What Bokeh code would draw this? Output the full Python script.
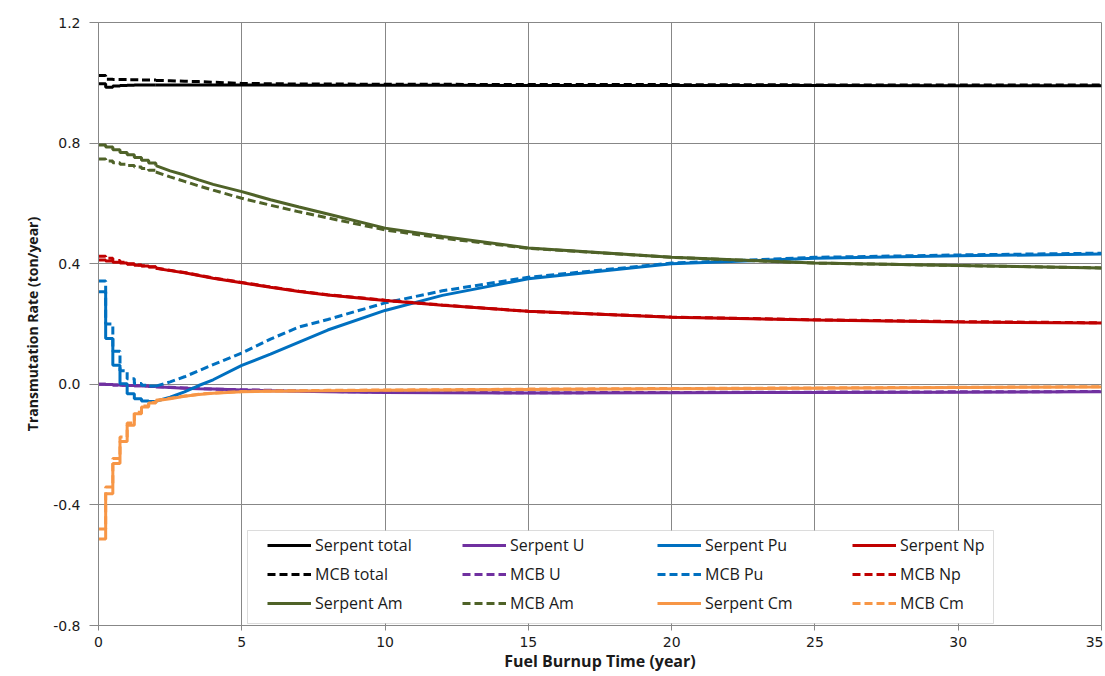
from bokeh.plotting import figure
from bokeh.models import Legend, LegendItem, BoxAnnotation, FixedTicker, PrintfTickFormatter, Range1d
from bokeh.embed import file_html
from bokeh.resources import INLINE

# ---------------- data ----------------
# early burnup steps (piecewise constant), then smooth part
T_STEP = [0, 0.25, 0.5, 0.75, 1.0, 1.25, 1.5, 1.75, 2.0]
T_LINE = [2, 2.5, 3, 3.5, 4, 5, 6, 7, 8, 10, 12, 15, 20, 25, 30, 35]

serpent_total_early = [0.997, 0.985, 0.989, 0.991, 0.992, 0.993, 0.993, 0.993, 0.993]
serpent_total_late = [0.993, 0.993, 0.993, 0.993, 0.993, 0.993, 0.993, 0.992, 0.992, 0.992, 0.992, 0.991, 0.991, 0.991, 0.990, 0.990]
mcb_total_early = [1.024, 1.012, 1.011, 1.011, 1.010, 1.010, 1.009, 1.009, 1.008]
mcb_total_late = [1.008, 1.007, 1.005, 1.004, 1.002, 0.998, 0.997, 0.996, 0.996, 0.995, 0.995, 0.994, 0.994, 0.993, 0.993, 0.993]

serpent_u_early = [0.000, -0.001, -0.002, -0.003, -0.004, -0.005, -0.006, -0.007, -0.008]
serpent_u_late = [-0.008, -0.011, -0.013, -0.015, -0.016, -0.019, -0.021, -0.023, -0.025, -0.027, -0.028, -0.029, -0.028, -0.027, -0.026, -0.025]
mcb_u_early = [0.000, -0.001, -0.002, -0.003, -0.004, -0.005, -0.006, -0.007, -0.008]
mcb_u_late = [-0.008, -0.010, -0.012, -0.014, -0.016, -0.018, -0.020, -0.022, -0.024, -0.026, -0.027, -0.028, -0.027, -0.026, -0.025, -0.024]

serpent_pu_early = [0.307, 0.152, 0.063, 0.002, -0.031, -0.048, -0.055, -0.057, -0.056]
serpent_pu_late = [-0.056, -0.043, -0.025, -0.004, 0.015, 0.063, 0.100, 0.140, 0.180, 0.245, 0.295, 0.350, 0.400, 0.418, 0.426, 0.432]
mcb_pu_early = [0.343, 0.200, 0.110, 0.045, 0.018, 0.003, -0.003, -0.006, -0.006]
mcb_pu_late = [-0.006, 0.008, 0.025, 0.045, 0.065, 0.104, 0.150, 0.190, 0.215, 0.270, 0.310, 0.355, 0.402, 0.421, 0.429, 0.435]

serpent_np_early = [0.412, 0.409, 0.405, 0.402, 0.398, 0.395, 0.392, 0.389, 0.385]
serpent_np_late = [0.385, 0.377, 0.370, 0.361, 0.352, 0.337, 0.322, 0.308, 0.296, 0.278, 0.262, 0.242, 0.222, 0.213, 0.207, 0.203]
mcb_np_early = [0.425, 0.418, 0.411, 0.405, 0.400, 0.396, 0.393, 0.390, 0.386]
mcb_np_late = [0.386, 0.378, 0.371, 0.362, 0.353, 0.338, 0.323, 0.309, 0.297, 0.279, 0.263, 0.242, 0.223, 0.214, 0.208, 0.204]

serpent_am_early = [0.794, 0.787, 0.778, 0.769, 0.761, 0.752, 0.743, 0.734, 0.725]
serpent_am_late = [0.725, 0.708, 0.694, 0.678, 0.663, 0.639, 0.612, 0.588, 0.565, 0.518, 0.490, 0.452, 0.421, 0.402, 0.394, 0.386]
mcb_am_early = [0.747, 0.741, 0.735, 0.730, 0.726, 0.721, 0.716, 0.710, 0.704]
mcb_am_late = [0.704, 0.688, 0.673, 0.658, 0.644, 0.617, 0.594, 0.572, 0.552, 0.512, 0.485, 0.451, 0.421, 0.402, 0.394, 0.386]

serpent_cm_early = [-0.513, -0.363, -0.263, -0.190, -0.136, -0.098, -0.075, -0.062, -0.055]
serpent_cm_late = [-0.055, -0.048, -0.040, -0.034, -0.030, -0.025, -0.023, -0.022, -0.021, -0.020, -0.019, -0.017, -0.015, -0.013, -0.011, -0.009]
mcb_cm_early = [-0.480, -0.341, -0.246, -0.175, -0.128, -0.093, -0.072, -0.060, -0.053]
mcb_cm_late = [-0.053, -0.046, -0.039, -0.033, -0.029, -0.024, -0.022, -0.021, -0.020, -0.019, -0.018, -0.016, -0.014, -0.012, -0.010, -0.008]

X_TICKS = [0, 5, 10, 15, 20, 25, 30, 35]
Y_TICKS = [-0.8, -0.4, 0.0, 0.4, 0.8, 1.2]

# ---------------- figure ----------------
GRID = "#878787"
p = figure(width=1103, height=675, x_range=Range1d(0, 35), y_range=Range1d(-0.8, 1.2),
           output_backend="svg", toolbar_location=None,
           min_border_left=98, min_border_right=2, min_border_top=22, min_border_bottom=50)

p.outline_line_color = GRID
p.outline_line_width = 1
p.xgrid.grid_line_color = GRID
p.ygrid.grid_line_color = GRID
p.xgrid.ticker = FixedTicker(ticks=X_TICKS)
p.ygrid.ticker = FixedTicker(ticks=Y_TICKS)

p.xaxis.ticker = FixedTicker(ticks=X_TICKS)
p.yaxis.ticker = FixedTicker(ticks=Y_TICKS)
p.yaxis.formatter = PrintfTickFormatter(format="%.1f")
for ax in (p.xaxis[0], p.yaxis[0]):
    ax.axis_line_color = GRID
    ax.major_tick_line_color = GRID
    ax.major_tick_in = 0
    ax.minor_tick_line_color = None
    ax.major_label_text_font = "DejaVu Sans"
    ax.major_label_text_font_size = "14px"
    ax.major_label_text_color = "#1a1a1a"
    ax.axis_label_text_font = "Open Sans"
    ax.axis_label_text_font_style = "bold"
    ax.axis_label_text_color = "#1a1a1a"
p.yaxis.major_tick_out = 9
p.xaxis.major_tick_out = 5
p.yaxis.major_label_standoff = 9
p.xaxis.major_label_standoff = 6
p.yaxis.axis_label = "Transmutation Rate (ton/year)"
p.xaxis.axis_label = "Fuel Burnup Time (year)"
p.yaxis.axis_label_text_font_size = "14px"
p.xaxis.axis_label_text_font_size = "16px"
p.yaxis.axis_label_standoff = 8
p.xaxis.axis_label_standoff = 0

series = [
    ("Serpent total", serpent_total_early, serpent_total_late, "#000000", "solid"),
    ("MCB total", mcb_total_early, mcb_total_late, "#000000", "8 4"),
    ("Serpent U", serpent_u_early, serpent_u_late, "#7030A0", "solid"),
    ("MCB U", mcb_u_early, mcb_u_late, "#7030A0", "8 4"),
    ("Serpent Pu", serpent_pu_early, serpent_pu_late, "#0070C0", "solid"),
    ("MCB Pu", mcb_pu_early, mcb_pu_late, "#0070C0", "8 4"),
    ("Serpent Np", serpent_np_early, serpent_np_late, "#C00000", "solid"),
    ("MCB Np", mcb_np_early, mcb_np_late, "#C00000", "8 4"),
    ("Serpent Am", serpent_am_early, serpent_am_late, "#4F6228", "solid"),
    ("MCB Am", mcb_am_early, mcb_am_late, "#4F6228", "8 4"),
    ("Serpent Cm", serpent_cm_early, serpent_cm_late, "#F79646", "solid"),
    ("MCB Cm", mcb_cm_early, mcb_cm_late, "#F79646", "8 4"),
]

renderers = {}
for name, early, late, color, dash in series:
    r1 = p.step(T_STEP, early, mode="after", line_color=color, line_width=3, line_dash=dash)
    r2 = p.line(T_LINE, late, line_color=color, line_width=3, line_dash=dash)
    renderers[name] = [r2, r1]

# legend frame
p.add_layout(BoxAnnotation(left=149, right=895, bottom=2, top=95,
                           left_units="screen", right_units="screen",
                           bottom_units="screen", top_units="screen",
                           fill_color="white", fill_alpha=1.0,
                           line_color="#8c8c8c", line_width=1, level="overlay"))

columns = [
    ["Serpent total", "MCB total", "Serpent Am"],
    ["Serpent U", "MCB U", "MCB Am"],
    ["Serpent Pu", "MCB Pu", "Serpent Cm"],
    ["Serpent Np", "MCB Np", "MCB Cm"],
]
col_x = [169, 364, 559, 754]
for cx, names in zip(col_x, columns):
    leg = Legend(items=[LegendItem(label=n, renderers=[renderers[n][0]]) for n in names],
                 location=(cx, 11), orientation="vertical",
                 background_fill_alpha=0, border_line_alpha=0,
                 padding=0, margin=0, spacing=7,
                 glyph_width=44, glyph_height=20, label_height=20,
                 label_standoff=4, label_text_font="Open Sans",
                 label_text_font_size="16px", label_text_color="#1a1a1a")
    p.add_layout(leg, "center")

open("out.html", "w").write(file_html(p, INLINE))
